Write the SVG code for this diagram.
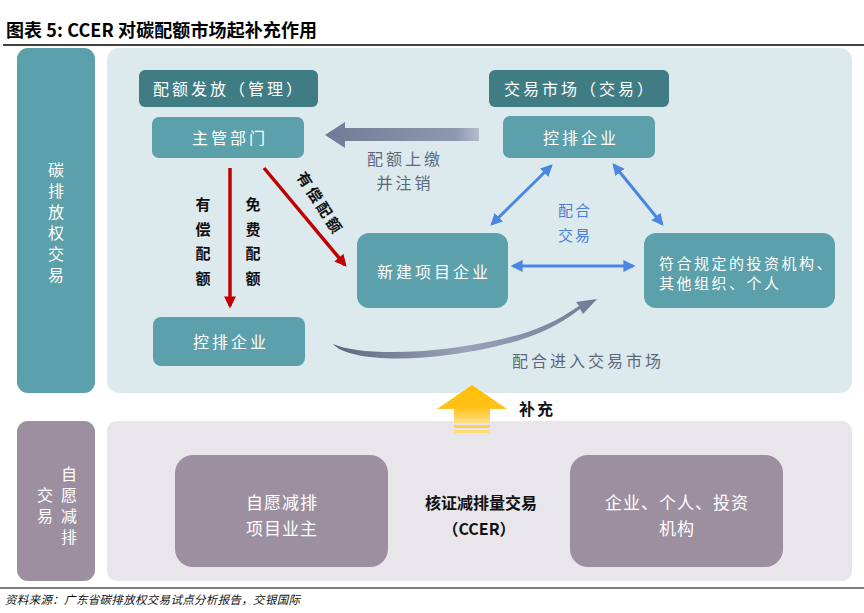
<svg xmlns="http://www.w3.org/2000/svg" width="864" height="613" viewBox="0 0 864 613">
<style>
.cjk{font-family:"Noto Sans CJK SC","Noto Sans",sans-serif;}
.vt{writing-mode:vertical-rl;}
.wt{fill:#ffffff;font-size:16px;letter-spacing:3px;text-anchor:middle;}
.bk{fill:#111111;font-size:15px;font-weight:bold;}
.gt{fill:#5d687c;font-size:16px;letter-spacing:3px;text-anchor:middle;}
.teal{fill:#5ba0ab;}
.dark{fill:#3f7c84;}
.purp{fill:#9c8fa0;}
.blue{stroke:#4b86e0;stroke-width:3;fill:none;marker-start:url(#bh);marker-end:url(#bh);}
.red{stroke:#c00000;stroke-width:3.5;fill:none;marker-end:url(#rh);}
</style>
<defs>
<marker id="bh" viewBox="0 0 10 10" refX="8" refY="5" markerWidth="4" markerHeight="4" orient="auto-start-reverse" markerUnits="strokeWidth">
<path d="M0,0 L10,5 L0,10 Z" fill="#4b86e0"/>
</marker>
<marker id="rh" viewBox="0 0 10 10" refX="8" refY="5" markerWidth="3.6" markerHeight="3.4" orient="auto" markerUnits="strokeWidth">
<path d="M0,0 L10,5 L0,10 Z" fill="#c00000"/>
</marker>
<linearGradient id="gray" x1="0" y1="0" x2="1" y2="0">
<stop offset="0" stop-color="#6f7b96"/>
<stop offset="0.85" stop-color="#8e98b0"/>
<stop offset="1" stop-color="#b4bccd"/>
</linearGradient>
<linearGradient id="swoosh" x1="0" y1="0" x2="1" y2="0">
<stop offset="0" stop-color="#5b6680"/>
<stop offset="0.5" stop-color="#9aa3b8"/>
<stop offset="1" stop-color="#6f7a95"/>
</linearGradient>
<linearGradient id="yel" x1="0" y1="0" x2="0" y2="1">
<stop offset="0" stop-color="#ffc000"/>
<stop offset="0.6" stop-color="#ffc21a"/>
<stop offset="1" stop-color="#ffe08a"/>
</linearGradient>
</defs>
<rect x="0" y="0" width="864" height="613" fill="#ffffff"/>

<g id="title">
<text x="6" y="37" class="cjk" font-size="18" font-weight="bold" fill="#000" textLength="311" lengthAdjust="spacing">图表 5: CCER 对碳配额市场起补充作用</text>
<line x1="3" y1="45" x2="864" y2="45" stroke="#000" stroke-width="1.5"/>
</g>

<g id="panel-carbon">
<rect x="107" y="48" width="745" height="345" rx="12" fill="#dceaee"/>
</g>
<g id="panel-ccer">
<rect x="107" y="421" width="745" height="160" rx="10" fill="#e8e6ea"/>
</g>

<g id="side-carbon">
<rect x="17" y="48" width="78" height="345" rx="11" class="teal"/>
<text x="56" y="162" class="cjk vt" fill="#fff" font-size="16" letter-spacing="5">碳排放权交易</text>
</g>
<g id="side-ccer">
<rect x="17" y="421" width="78" height="160" rx="11" class="purp"/>
<text x="69" y="466" class="cjk vt" fill="#fff" font-size="16" letter-spacing="5">自愿减排</text>
<text x="45" y="487" class="cjk vt" fill="#fff" font-size="16" letter-spacing="5">交易</text>
</g>

<g id="hdr-issue">
<rect x="139" y="70" width="179" height="37" rx="6" class="dark"/>
<text x="229" y="95" class="cjk wt" font-size="17">配额发放（管理）</text>
</g>
<g id="hdr-market">
<rect x="489" y="70" width="180" height="37" rx="6" class="dark"/>
<text x="580" y="95" class="cjk wt" font-size="17">交易市场（交易）</text>
</g>
<g id="node-authority">
<rect x="152" y="117" width="152" height="41" rx="7" class="teal"/>
<text x="230" y="144" class="cjk wt" font-size="17">主管部门</text>
</g>
<g id="node-emitter-top">
<rect x="503" y="116" width="152" height="42" rx="7" class="teal"/>
<text x="581" y="144" class="cjk wt" font-size="17">控排企业</text>
</g>
<g id="node-newproj">
<rect x="357" y="233" width="151" height="75" rx="12" class="teal"/>
<text x="434" y="278" class="cjk wt" font-size="17">新建项目企业</text>
</g>
<g id="node-investor">
<rect x="644" y="233" width="191" height="75" rx="12" class="teal"/>
<text class="cjk" fill="#fff" font-size="15" letter-spacing="2.5">
<tspan x="659" y="269">符合规定的投资机构、</tspan><tspan x="659" y="289">其他组织、个人</tspan>
</text>
</g>
<g id="node-emitter-bottom">
<rect x="153" y="317" width="152" height="49" rx="8" class="teal"/>
<text x="231" y="348" class="cjk wt" font-size="17">控排企业</text>
</g>
<g id="node-owner">
<rect x="175" y="455" width="213" height="112" rx="18" class="purp"/>
<text class="cjk" fill="#fff" font-size="17" text-anchor="middle" letter-spacing="1">
<tspan x="282" y="509">自愿减排</tspan><tspan x="282" y="535">项目业主</tspan>
</text>
</g>
<g id="node-buyers">
<rect x="570" y="455" width="213" height="112" rx="18" class="purp"/>
<text class="cjk" fill="#fff" font-size="17" text-anchor="middle" letter-spacing="1">
<tspan x="677" y="509">企业、个人、投资</tspan><tspan x="677" y="535">机构</tspan>
</text>
</g>
<g id="label-ccer">
<text class="cjk" fill="#111" font-size="16" font-weight="bold" text-anchor="middle">
<tspan x="481" y="509">核证减排量交易</tspan><tspan x="479" y="535">（CCER）</tspan>
</text>
</g>

<g id="connectors">
<line x1="230" y1="168" x2="230" y2="306" class="red"/>
<line x1="264" y1="168" x2="345" y2="265" class="red"/>
<path d="M479,128 L345,128 L345,122 L325,135 L345,148 L345,141 L479,141 Z" fill="url(#gray)"/>
<line x1="551" y1="166" x2="492" y2="224" class="blue"/>
<line x1="614" y1="165" x2="662" y2="224" class="blue"/>
<line x1="513" y1="266" x2="633" y2="266" class="blue"/>
<path d="M333,344 C350,364 440,364 520,340 C548,331 566,320 580,309 L583,314 L597,299 L576,302 L579,306 C563,317 545,327 518,335 C440,356 360,356 333,344 Z" fill="url(#swoosh)"/>
<path d="M472,385 L507,409 L490,409 L490,423 L454,423 L454,409 L437,409 Z" fill="url(#yel)"/>
<rect x="454" y="425" width="36" height="3" fill="#ffd24d"/>
<rect x="454" y="430" width="36" height="3" fill="#ffdc73"/>
</g>

<g id="labels">
<text x="203" y="197" class="cjk bk vt" letter-spacing="9.5">有偿配额</text>
<text x="253" y="197" class="cjk bk vt" letter-spacing="9.5">免费配额</text>
<text class="cjk bk" font-size="16" letter-spacing="3" text-anchor="middle" transform="translate(321,203) rotate(57)" dominant-baseline="central">有偿配额</text>
<text class="cjk gt"><tspan x="405" y="165">配额上缴</tspan><tspan x="405" y="189">并注销</tspan></text>
<text class="cjk" fill="#4a7fd6" font-size="15" letter-spacing="2" text-anchor="middle"><tspan x="575" y="216">配合</tspan><tspan x="575" y="241">交易</tspan></text>
<text x="588" y="367" class="cjk gt">配合进入交易市场</text>
<text x="519" y="415" class="cjk" fill="#111" font-size="16" font-weight="bold" letter-spacing="2">补充</text>
</g>

<g id="source">
<line x1="0" y1="588" x2="864" y2="588" stroke="#000" stroke-width="1.2"/>
<text x="5" y="604" font-family="'Noto Sans CJK SC',serif" font-size="11.5" font-style="italic" fill="#111" textLength="295" lengthAdjust="spacing">资料来源：广东省碳排放权交易试点分析报告，交银国际</text>
</g>
</svg>
